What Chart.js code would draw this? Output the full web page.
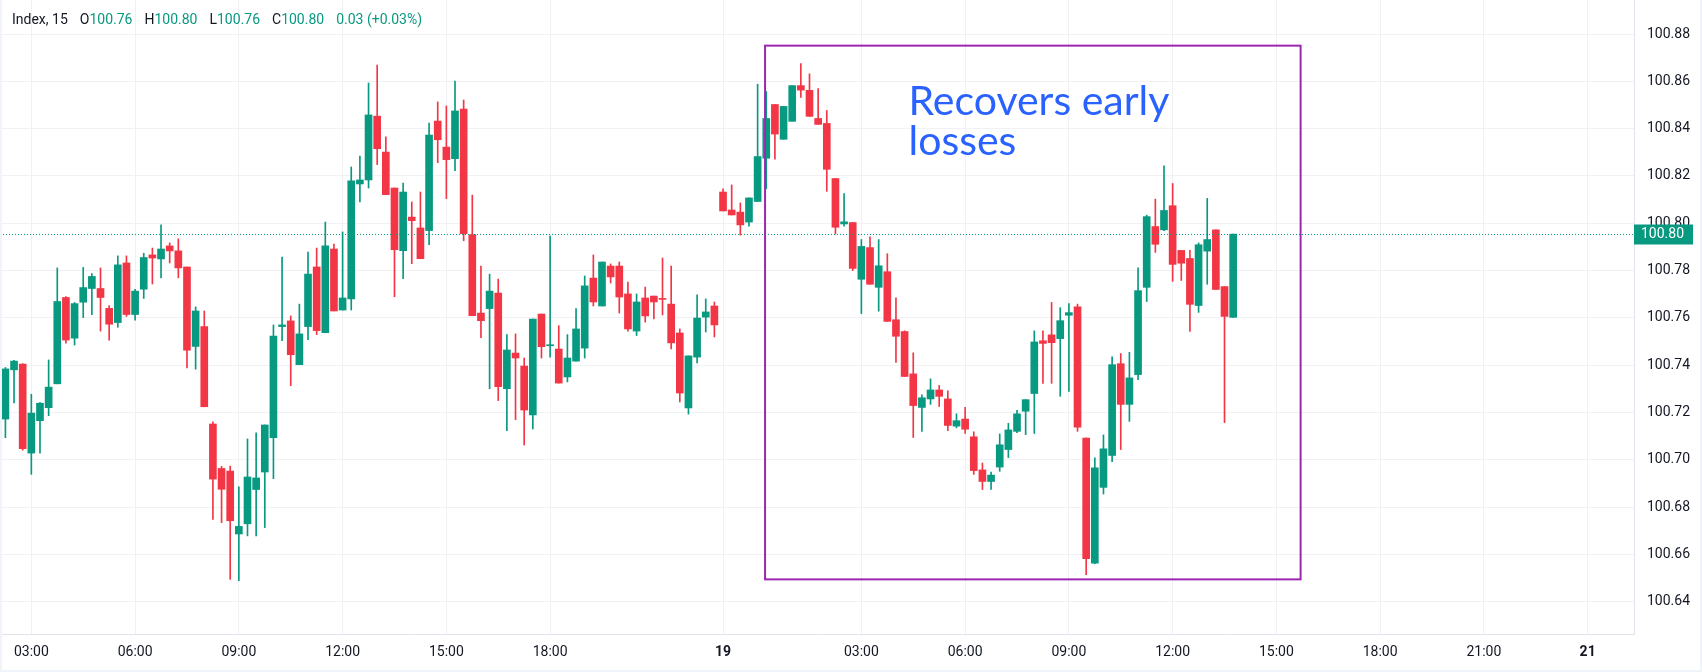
<!DOCTYPE html>
<html>
<head>
<meta charset="utf-8">
<script src="https://cdn.jsdelivr.net/npm/chart.js@4.4.1/dist/chart.umd.min.js"></script>
<style>
  html, body { margin: 0; padding: 0; background: #fff; }
  #wrap { width: 1702px; height: 672px; }
</style>
</head>
<body>
<div id="wrap"><canvas id="chart" width="1702" height="672"></canvas></div>
<script>
// 15-minute bars
const opens = [100.7172,100.7380,100.7404,100.7028,100.7165,100.7220,100.7321,100.7686,100.7514,100.7666,
  100.7724,100.7724,100.7640,100.7580,100.7832,100.7614,100.7721,100.7866,100.7849,100.7904,
  100.7883,100.7815,100.7479,100.7563,100.7151,100.6963,100.6952,100.6686,100.6729,100.6874,
  100.6948,100.7093,100.7563,100.7587,100.7402,100.7563,100.7815,100.7537,100.7891,100.7633,
  100.7680,100.8166,100.8183,100.8453,100.8301,100.8149,100.7884,100.8026,100.7980,100.7969,
  100.8432,100.8322,100.8273,100.8483,100.7952,100.7620,100.7639,100.7705,100.7300,100.7451,
  100.7396,100.7189,100.7616,100.7482,100.7468,100.7350,100.7417,100.7472,100.7768,100.7650,
  100.7819,100.7819,100.7701,100.7544,100.7684,100.7692,100.7680,100.7658,100.7536,100.7219,
  100.7434,100.7603,100.7650,100.8132,100.8056,100.8047,100.8005,100.8092,100.8275,100.8502,
  100.8355,100.8431,100.8582,100.8562,100.8443,100.8422,100.8189,100.7997,100.8003,100.7763,
  100.7897,100.7729,100.7795,100.7592,100.7542,100.7363,100.7221,100.7257,100.7295,100.7257,
  100.7142,100.7172,100.7097,100.6957,100.6908,100.6969,100.7043,100.7120,100.7205,100.7280,
  100.7503,100.7528,100.7512,100.7611,100.7646,100.7092,100.6563,100.6883,100.7018,100.7406,
  100.7234,100.7360,100.7729,100.7986,100.7972,100.8074,100.7885,100.7851,100.7652,100.7882,
  100.7972,100.7732,100.7602];
const highs = [100.7390,100.7420,100.7406,100.7277,100.7242,100.7422,100.7811,100.7690,100.7665,100.7813,
  100.7787,100.7811,100.7652,100.7862,100.7862,100.7721,100.7873,100.7895,100.7993,100.7917,
  100.7934,100.7815,100.7646,100.7629,100.7160,100.6972,100.6973,100.6885,100.7088,100.7114,
  100.7147,100.7570,100.7857,100.7608,100.7658,100.7878,100.7895,100.8005,100.7912,100.7963,
  100.8238,100.8284,100.8593,100.8669,100.8365,100.8149,100.8170,100.8090,100.8132,100.8424,
  100.8513,100.8496,100.8601,100.8521,100.8119,100.7819,100.7785,100.7764,100.7529,100.7532,
  100.7430,100.7595,100.7616,100.7946,100.7567,100.7529,100.7639,100.7777,100.7866,100.7836,
  100.7828,100.7836,100.7751,100.7701,100.7730,100.7692,100.7853,100.7819,100.7553,100.7439,
  100.7697,100.7680,100.7667,100.8145,100.8162,100.8086,100.8107,100.8588,100.8557,100.8502,
  100.8494,100.8582,100.8675,100.8632,100.8569,100.8477,100.8189,100.8125,100.8003,100.7931,
  100.7943,100.7931,100.7871,100.7685,100.7545,100.7452,100.7274,100.7342,100.7314,100.7291,
  100.7194,100.7222,100.7118,100.6986,100.6948,100.7109,100.7154,100.7209,100.7254,100.7545,
  100.7545,100.7665,100.7643,100.7660,100.7658,100.7092,100.7008,100.7105,100.7435,100.7449,
  100.7454,100.7811,100.8034,100.8102,100.8243,100.8168,100.7885,100.7885,100.7917,100.8105,
  100.7972,100.7732,100.7954];
const lows = [100.7093,100.7240,100.7040,100.6938,100.7028,100.7186,100.7321,100.7493,100.7485,100.7601,
  100.7613,100.7544,100.7506,100.7560,100.7606,100.7590,100.7682,100.7743,100.7769,100.7832,
  100.7769,100.7388,100.7383,100.7224,100.6747,100.6734,100.6494,100.6489,100.6678,100.6678,
  100.6713,100.6920,100.7503,100.7313,100.7402,100.7508,100.7529,100.7537,100.7629,100.7633,
  100.7633,100.8090,100.8149,100.8248,100.8121,100.7689,100.7766,100.7829,100.7850,100.7909,
  100.8256,100.8104,100.8222,100.7926,100.7609,100.7516,100.7300,100.7250,100.7123,100.7169,
  100.7062,100.7130,100.7430,100.7434,100.7324,100.7329,100.7417,100.7430,100.7650,100.7650,
  100.7747,100.7620,100.7544,100.7525,100.7582,100.7595,100.7612,100.7468,100.7244,100.7193,
  100.7409,100.7540,100.7519,100.8052,100.8035,100.7950,100.7988,100.8092,100.8146,100.8271,
  100.8355,100.8431,100.8532,100.8452,100.8418,100.8135,100.7954,100.7988,100.7800,100.7618,
  100.7742,100.7628,100.7585,100.7411,100.7352,100.7094,100.7120,100.7234,100.7225,100.7123,
  100.7135,100.7111,100.6938,100.6874,100.6874,100.6951,100.7009,100.7114,100.7106,100.7111,
  100.7323,100.7323,100.7268,100.7289,100.7120,100.6514,100.6560,100.6855,100.6992,100.7043,
  100.7162,100.7338,100.7669,100.7877,100.7969,100.7754,100.7758,100.7543,100.7623,100.7742,
  100.7720,100.7157,100.7602];
const closes = [100.7384,100.7417,100.7047,100.7197,100.7239,100.7307,100.7669,100.7506,100.7660,100.7728,
  100.7775,100.7686,100.7573,100.7824,100.7614,100.7713,100.7855,100.7853,100.7891,100.7883,
  100.7811,100.7463,100.7629,100.7224,100.6918,100.6875,100.6742,100.6718,100.6927,100.6923,
  100.7147,100.7523,100.7570,100.7444,100.7532,100.7785,100.7546,100.7904,100.7629,100.7684,
  100.8179,100.8183,100.8458,100.8315,100.8121,100.7888,100.8132,100.8011,100.7850,100.8373,
  100.8353,100.8269,100.8475,100.7956,100.7609,100.7588,100.7713,100.7309,100.7464,100.7430,
  100.7210,100.7595,100.7478,100.7486,100.7324,100.7430,100.7553,100.7735,100.7667,100.7836,
  100.7773,100.7688,100.7553,100.7667,100.7608,100.7667,100.7678,100.7494,100.7282,100.7439,
  100.7599,100.7625,100.7570,100.8052,100.8035,100.7993,100.8107,100.8282,100.8443,100.8377,
  100.8494,100.8582,100.8563,100.8452,100.8418,100.8228,100.7983,100.8006,100.7809,100.7902,
  100.7742,100.7820,100.7585,100.7522,100.7352,100.7229,100.7262,100.7295,100.7268,100.7145,
  100.7165,100.7129,100.6954,100.6908,100.6935,100.7063,100.7126,100.7194,100.7254,100.7498,
  100.7492,100.7495,100.7588,100.7622,100.7138,100.6582,100.6966,100.7046,100.7402,100.7234,
  100.7346,100.7715,100.8028,100.7911,100.8054,100.7826,100.7831,100.7657,100.7909,100.7931,
  100.7720,100.7606,100.7954];

// time axis: bar index of each label
const timeTicks = [3, 15, 27, 39, 51, 63, 83, 99, 111, 123, 135, 147, 159, 171, 183];
const timeLabels = ['03:00', '06:00', '09:00', '12:00', '15:00', '18:00', '19', '03:00', '06:00', '09:00', '12:00', '15:00', '18:00', '21:00', '21'];
const dayLabels = ['19', '21'];
const priceTicks = [100.64, 100.66, 100.68, 100.70, 100.72, 100.74, 100.76, 100.78, 100.80, 100.82, 100.84, 100.86, 100.88];

const lastPrice = 100.7954;
const boxBars = [87.86, 149.8];
const boxPrices = [100.6494, 100.8751];
const noteLines = ['Recovers early', 'losses'];
const notePos = [104.45, 100.8457];

const UP = '#089981';
const DOWN = '#f23645';
const GRID = '#f0f1f4';
const SEP = '#e0e3eb';
const TEXT = '#131722';
const FONT = 'Roboto, "Liberation Sans", sans-serif';

const colors = opens.map((o, i) => closes[i] >= o ? UP : DOWN);
const wickData = lows.map((l, i) => ({ x: i, y: [l, highs[i]] }));
const bodyData = opens.map((o, i) => ({ x: i, y: [o, closes[i]] }));

const overlay = {
    id: 'overlay',
    afterDraw(chart) {
        const { ctx, chartArea, scales } = chart;
        const xs = scales.x, ys = scales.y;
        ctx.save();

        // last price dotted line
        const py = Math.round(ys.getPixelForValue(lastPrice)) + 0.5;
        ctx.strokeStyle = UP;
        ctx.lineWidth = 1;
        ctx.setLineDash([1, 2]);
        ctx.beginPath();
        ctx.moveTo(chartArea.left, py);
        ctx.lineTo(chartArea.right, py);
        ctx.stroke();
        ctx.setLineDash([]);

        // annotation box
        const x1 = xs.getPixelForValue(boxBars[0]);
        const x2 = xs.getPixelForValue(boxBars[1]);
        const y1 = ys.getPixelForValue(boxPrices[1]);
        const y2 = ys.getPixelForValue(boxPrices[0]);
        ctx.strokeStyle = '#9c27b0';
        ctx.lineWidth = 2;
        ctx.strokeRect(x1, y1, x2 - x1, y2 - y1);

        // annotation text
        ctx.fillStyle = '#2962ff';
        ctx.font = '41px Lato, sans-serif';
        ctx.textAlign = 'left';
        ctx.textBaseline = 'alphabetic';
        const tx = xs.getPixelForValue(notePos[0]);
        const ty = ys.getPixelForValue(notePos[1]);
        noteLines.forEach((line, i) => ctx.fillText(line, tx, ty + i * 40));

        // price label on the axis
        ctx.fillStyle = UP;
        ctx.fillRect(chartArea.right, py - 10, 59, 20);
        ctx.fillStyle = '#fff';
        ctx.font = '14px ' + FONT;
        ctx.textBaseline = 'middle';
        ctx.fillText(lastPrice.toFixed(2), chartArea.right + 7, py);

        // legend line
        const parts = [
            ['Index, 15', TEXT, 12], ['O', TEXT, 0], [opens[opens.length - 1].toFixed(2), UP, 12],
            ['H', TEXT, 0], [highs[highs.length - 1].toFixed(2), UP, 12],
            ['L', TEXT, 0], [lows[lows.length - 1].toFixed(2), UP, 12],
            ['C', TEXT, 0], [closes[closes.length - 1].toFixed(2), UP, 12],
            ['0.03 (+0.03%)', UP, 0]
        ];
        let hx = 12;
        parts.forEach(([t, c, gap]) => {
            ctx.fillStyle = c;
            ctx.fillText(t, hx, 20);
            hx += ctx.measureText(t).width + gap;
        });

        // frame
        ctx.fillStyle = '#f0f3fa';
        ctx.fillRect(0, 0, 2, chart.height);
        ctx.fillRect(chart.width - 2, 0, 2, chart.height);
        ctx.fillRect(0, chart.height - 2, chart.width, 2);
        ctx.restore();
    }
};

new Chart(document.getElementById('chart'), {
    type: 'bar',
    data: {
        datasets: [
            { data: wickData, backgroundColor: colors, barThickness: 1, grouped: false, order: 2 },
            { data: bodyData, backgroundColor: colors, barThickness: 7, grouped: false, minBarLength: 1, order: 1 }
        ]
    },
    options: {
        responsive: false,
        animation: false,
        layout: { padding: 0 },
        plugins: { legend: { display: false }, tooltip: { enabled: false } },
        scales: {
            x: {
                type: 'linear',
                offset: false,
                min: -0.625,
                max: 188.36,
                afterBuildTicks: (s) => { s.ticks = timeTicks.map(v => ({ value: v })); },
                afterFit: (s) => { s.height = 38; s.paddingLeft = 0; s.paddingRight = 0; },
                grid: { color: GRID, drawTicks: false, offset: false },
                border: { color: SEP },
                ticks: {
                    padding: 10,
                    color: TEXT,
                    maxRotation: 0,
                    autoSkip: false,
                    font: (c) => ({ family: FONT, size: 14, weight: dayLabels.includes(timeLabels[timeTicks.indexOf(c.tick && c.tick.value)]) ? 'bold' : 'normal' }),
                    callback: (v) => timeLabels[timeTicks.indexOf(v)]
                }
            },
            y: {
                position: 'right',
                min: 100.6263,
                max: 100.8944,
                afterBuildTicks: (s) => { s.ticks = priceTicks.map(v => ({ value: v })); },
                afterFit: (s) => { s.width = 68; s.paddingTop = 0; s.paddingBottom = 0; },
                grid: { color: GRID, drawTicks: false },
                border: { color: SEP },
                ticks: {
                    padding: 13,
                    color: TEXT,
                    font: { family: FONT, size: 14 },
                    callback: (v) => v.toFixed(2)
                }
            }
        }
    },
    plugins: [overlay]
});
</script>
</body>
</html>
